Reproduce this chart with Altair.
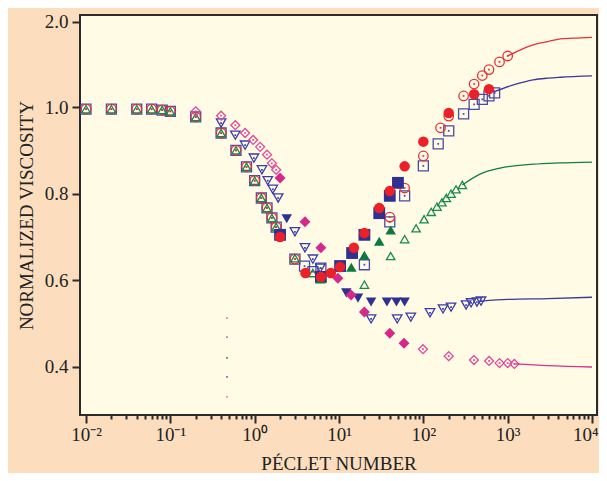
import altair as alt
import pandas as pd

# ---------------- data ----------------
LOW_PE = [0.01, 0.02, 0.04, 0.06, 0.08, 0.1, 0.2, 0.4, 0.6, 0.8, 1.0, 1.2, 1.4, 1.6, 1.8]
LOW_V = [0.995, 0.995, 0.995, 0.995, 0.993, 0.99, 0.977, 0.94, 0.90, 0.862, 0.83, 0.79, 0.767, 0.744, 0.723]

# open red circles (with dot)
OCIRC_PE = LOW_PE + [3.0, 40, 60, 100, 160, 200, 300, 400, 500, 600, 800, 1000]
OCIRC_V = LOW_V + [0.649, 0.746, 0.813, 0.887, 0.952, 0.979, 1.13, 1.27, 1.37, 1.44, 1.53, 1.60]

# filled red circles
FCIRC_PE = [2.0, 4.0, 6.1, 8.0, 10.3, 15, 20, 30, 40, 60, 100, 200, 400, 600]
FCIRC_V = [0.70, 0.617, 0.608, 0.617, 0.631, 0.675, 0.709, 0.767, 0.806, 0.863, 0.92, 0.986, 1.15, 1.21]

# open blue squares (with dot)
OSQ_PE = LOW_PE + [3.0, 3.9, 4.9, 6.1, 20, 40, 60, 100, 150, 200, 300, 400, 500, 600, 700]
OSQ_V = LOW_V + [0.649, 0.633, 0.62, 0.628, 0.636, 0.735, 0.795, 0.864, 0.915, 0.945, 0.984, 1.03, 1.09, 1.13, 1.165]

# filled navy squares
FSQ_PE = [2.0, 6.1, 10.3, 14.3, 20, 30, 40, 50]
FSQ_V = [0.705, 0.608, 0.633, 0.663, 0.705, 0.755, 0.795, 0.825]

# open green triangles
OTRI_PE = LOW_PE + [3.0, 4.9, 20, 41, 60, 82, 102, 124, 145, 166, 187, 213, 244, 290]
OTRI_V = LOW_V + [0.651, 0.617, 0.59, 0.656, 0.695, 0.72, 0.741, 0.758, 0.77, 0.78, 0.79, 0.80, 0.81, 0.82]

# filled green triangles
FTRI_PE = [6.0, 14, 20, 30, 41]
FTRI_V = [0.603, 0.63, 0.658, 0.69, 0.716]

# open blue inverted triangles
OINV_PE = [0.4, 0.59, 0.77, 0.98, 1.22, 1.43, 1.64, 1.9, 3.0, 3.95, 4.9, 6.0,
           24, 49, 71, 120, 171, 213, 321, 368, 432, 483]
OINV_V = [0.963, 0.935, 0.912, 0.882, 0.855, 0.83, 0.81, 0.79, 0.712, 0.675, 0.649, 0.628,
          0.511, 0.511, 0.515, 0.525, 0.534, 0.538, 0.543, 0.548, 0.55, 0.552]

# filled navy inverted triangles
FINV_PE = [2.4, 12.2, 16.8, 24, 37, 48, 60]
FINV_V = [0.742, 0.571, 0.559, 0.55, 0.55, 0.55, 0.55]

# open magenta diamonds
ODIA_PE = [0.2, 0.4, 0.59, 0.77, 0.96, 1.16, 1.4, 1.6, 1.8, 99, 200, 398, 602, 800, 1000, 1200]
ODIA_V = [0.99, 0.98, 0.958, 0.94, 0.924, 0.908, 0.89, 0.87, 0.855, 0.441, 0.425, 0.416, 0.414, 0.409, 0.409, 0.407]

# filled magenta diamonds
FDIA_PE = [2.0, 3.95, 6.1, 9.7, 13.9, 20, 40, 59]
FDIA_V = [0.836, 0.735, 0.675, 0.605, 0.566, 0.527, 0.478, 0.455]

# solid curves at high Peclet number
RED_LINE_PE = [1000, 1400, 2000, 3000, 4200, 6000, 10000]
RED_LINE_V = [1.60, 1.67, 1.73, 1.77, 1.80, 1.81, 1.82]
BLUE_LINE_PE = [690, 1170, 2000, 3000, 4200, 10000]
BLUE_LINE_V = [1.18, 1.26, 1.32, 1.34, 1.35, 1.365]
GREEN_LINE_PE = [290, 470, 810, 2000, 4000, 10000]
GREEN_LINE_V = [0.82, 0.845, 0.859, 0.868, 0.871, 0.873]
NAVY_LINE_PE = [483, 1000, 3000, 10000]
NAVY_LINE_V = [0.552, 0.556, 0.558, 0.561]
MAG_LINE_PE = [1200, 3000, 10000]
MAG_LINE_V = [0.407, 0.403, 0.400]

# stray tiny legend dots
DOT_PE = [0.47, 0.47, 0.47, 0.47, 0.47]
DOT_V = [0.513, 0.469, 0.421, 0.377, 0.331]
DOT_COLORS = ["#e87fa0", "#8a8ab8", "#2a9a5a", "#6a6ad0", "#ec8a8a"]

# axes
X_TICK_MAJOR = [0.01, 0.1, 1, 10, 100, 1000, 10000]
X_TICK_LABELS = ["10\u207b\u00b2", "10\u207b\u00b9", "10\u2070", "10\u00b9", "10\u00b2", "10\u00b3", "10\u2074"]
Y_TICKS = [0.4, 0.6, 0.8, 1.0, 2.0]

# ---------------- chart ----------------
FONT = "Liberation Serif"
minor = [m * d for d in X_TICK_MAJOR[:-1] for m in range(2, 10)]
x_values = sorted(X_TICK_MAJOR + minor)
label_expr = " : ".join(
    f"abs(datum.value - {v}) < {v}*1e-6 ? '{l}'" for v, l in zip(X_TICK_MAJOR, X_TICK_LABELS)
) + " : ''"
major_test = "abs(log(datum.value)/LN10 - round(log(datum.value)/LN10)) < 1e-6"

x_scale = alt.Scale(type="log", domain=[10 ** -2.071, 10 ** 4.059], nice=False)
y_scale = alt.Scale(domain=[0.2892, 1.0, 2.082], range=[400, 92, 0], nice=False, zero=False)

x_enc = alt.X(
    "pe:Q", scale=x_scale,
    axis=alt.Axis(
        values=x_values, labelExpr=label_expr, labelOverlap=False,
        labelFlush=5.5, labelFlushOffset=6,
        tickSize={"condition": {"test": major_test, "value": 8}, "value": 4},
        labelPadding=2, title="P\u00c9CLET NUMBER", titlePadding=10,
    ),
)
y_enc = alt.Y(
    "v:Q", scale=y_scale,
    axis=alt.Axis(values=Y_TICKS, format=".1f", tickSize=8, labelPadding=4,
                  title="NORMALIZED VISCOSITY", titlePadding=8),
)


def df(pe, v):
    return pd.DataFrame({"pe": pe, "v": v})


def pts(pe, v, shape, color, size, filled, sw=1.3, dot=False):
    base = alt.Chart(df(pe, v))
    if filled:
        m = base.mark_point(shape=shape, filled=True, size=size, color=color, opacity=1)
    else:
        m = base.mark_point(shape=shape, filled=False, size=size, color=color, strokeWidth=sw, opacity=1)
    layer = [m.encode(x=x_enc, y=y_enc)]
    if dot:
        layer.append(base.mark_point(shape="square", filled=True, size=3, color=color, opacity=1)
                     .encode(x=x_enc, y=y_enc))
    return layer


def line(pe, v, color):
    return alt.Chart(df(pe, v)).mark_line(color=color, strokeWidth=1.3, interpolate="monotone").encode(
        x=x_enc, y=y_enc)


layers = []
layers += pts(OSQ_PE, OSQ_V, "square", "#4a4aa8", 100, False, dot=True)
layers += pts(OCIRC_PE, OCIRC_V, "circle", "#e8303a", 90, False, dot=True)
layers += pts(OTRI_PE, OTRI_V, "triangle-up", "#178a4a", 70, False)
layers += pts(OINV_PE, OINV_V, "triangle-down", "#3c3ca8", 90, False, dot=True)
layers += pts(ODIA_PE, ODIA_V, "diamond", "#e0489a", 80, False, dot=True)
layers += pts(FSQ_PE, FSQ_V, "square", "#2e3192", 140, True)
layers += pts(FTRI_PE, FTRI_V, "triangle-up", "#0a7a40", 110, True)
layers += pts(FINV_PE, FINV_V, "triangle-down", "#2e3192", 110, True)
layers += pts(FDIA_PE, FDIA_V, "diamond", "#d6288a", 120, True)
layers += pts(FCIRC_PE, FCIRC_V, "circle", "#ec2028", 110, True)
layers += [
    line(RED_LINE_PE, RED_LINE_V, "#e8303a"),
    line(BLUE_LINE_PE, BLUE_LINE_V, "#3a3a9a"),
    line(GREEN_LINE_PE, GREEN_LINE_V, "#108040"),
    line(NAVY_LINE_PE, NAVY_LINE_V, "#3a3a9a"),
    line(MAG_LINE_PE, MAG_LINE_V, "#d63090"),
]
dots = pd.DataFrame({"pe": DOT_PE, "v": DOT_V, "c": DOT_COLORS})
layers.append(alt.Chart(dots).mark_square(size=3, opacity=1).encode(
    x=x_enc, y=y_enc, color=alt.Color("c:N", scale=None)))

chart = alt.layer(*layers).properties(
    width=517, height=400,
    autosize=alt.AutoSizeParams(type="none"),
    padding={"left": 72, "top": 7, "right": 2, "bottom": 58},
).configure(background="#fcdebe").configure_view(
    fill="#fffbe4", stroke="#2b2b2b", strokeWidth=2
).configure_axis(
    labelFont=FONT, labelFontSize=19, labelColor="#222222",
    titleFont=FONT, titleFontSize=19, titleFontWeight="normal", titleColor="#222222",
    domain=False, grid=False, tickColor="#2b2b2b", tickWidth=2,
)

chart.save("out.html", embed_options={"renderer": "svg", "actions": False})
